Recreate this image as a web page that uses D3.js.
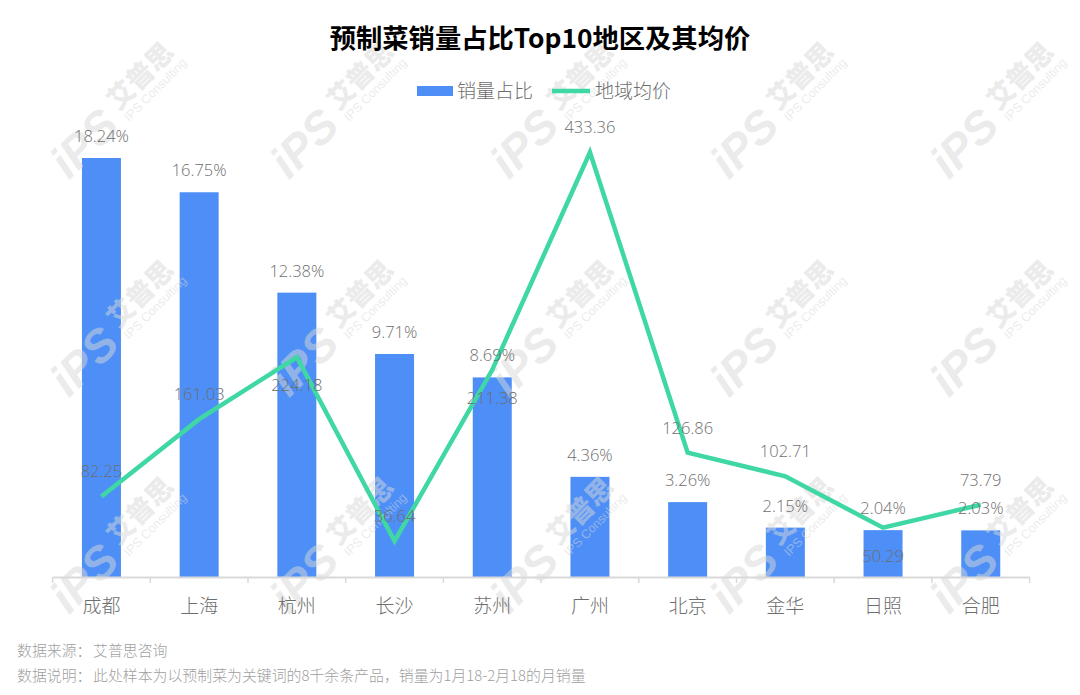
<!DOCTYPE html>
<html><head><meta charset="utf-8">
<script src="https://cdn.jsdelivr.net/npm/d3@7"></script>
<style>html,body{margin:0;padding:0;background:#fff}svg{display:block}
text{font-family:"Noto Sans CJK SC","Noto Sans",sans-serif}</style></head><body>
<svg id="c" width="1080" height="695"></svg>
<script>
const categories=["成都","上海","杭州","长沙","苏州","广州","北京","金华","日照","合肥"];
const shareValues=[18.24,16.75,12.38,9.71,8.69,4.36,3.26,2.15,2.04,2.03];
const priceValues=[82.25,161.03,224.18,36.64,211.38,433.36,126.86,102.71,50.29,73.79];
const priceLabelSide=["up","up","down","up","down","up","up","up","down","up"];
const seriesNames=["销量占比","地域均价"];
const titleText="预制菜销量占比Top10地区及其均价";
const notes=["数据来源：","艾普思咨询","数据说明：","此处样本为以预制菜为关键词的8千余条产品，销量为1月18-2月18的月销量"];
const blue="#4d8ff7",green="#3fd8a4",labelGrey="#6e6e6e";
const svg=d3.select("#c");
const latin='"Open Sans","Noto Sans CJK SC",sans-serif';

const x=d3.scaleBand().domain(categories).range([52.6,1029.6]).paddingInner(0).paddingOuter(0);
const yShare=d3.scaleLinear().domain([0,20]).range([577,117.6]);
const yPrice=d3.scaleLinear().domain([0,500]).range([577,87]);
const cx=d=>x(d)+x.bandwidth()/2;

// bars
svg.append("g").selectAll("rect").data(categories).join("rect")
  .attr("x",d=>cx(d)-19.5).attr("width",39)
  .attr("y",(d,i)=>yShare(shareValues[i]))
  .attr("height",(d,i)=>yShare(0)-yShare(shareValues[i]))
  .attr("fill",blue);

// watermark
const wmCols=[76,296,516,736,956], wmRows=[182,400,617];
const wm=svg.append("g").attr("pointer-events","none");
wmRows.forEach(ry=>wmCols.forEach(rx=>{
  const g=wm.append("g").attr("transform",`translate(${rx},${ry}) rotate(-45)`)
    .attr("fill","#d8d8d8").attr("fill-opacity",0.5);
  g.append("text").attr("x",-4).attr("y",-6).attr("font-size",46).attr("font-weight",900)
    .style("font-family",'"Liberation Sans"').style("font-style","italic").text("iPS");
  g.append("text").attr("x",80).attr("y",-20).attr("font-size",27).attr("font-weight",900).text("艾普思");
  g.append("text").attr("x",80).attr("y",-5).attr("font-size",12.5).attr("font-weight",400)
    .style("font-family",'"Liberation Sans"').text("IPS Consulting");
}));

// axis
const axis=svg.append("g").attr("transform","translate(0,577)")
  .call(d3.axisBottom(x).tickSize(0).tickPadding(23));
axis.select(".domain").attr("stroke","#d9d9d9").attr("stroke-width",2);
axis.selectAll("text").attr("font-size",19).attr("fill",labelGrey)
  .style("font-family",'"Noto Sans CJK SC"').attr("font-weight",300);
svg.append("g").selectAll("line").data(d3.range(11)).join("line")
  .attr("x1",i=>52.6+i*x.bandwidth()).attr("x2",i=>52.6+i*x.bandwidth())
  .attr("y1",577).attr("y2",583).attr("stroke","#d9d9d9").attr("stroke-width",1.5);

// line
const line=d3.line().x(d=>cx(d)).y((d,i)=>yPrice(priceValues[i]));
svg.append("path").attr("d",line(categories)).attr("fill","none")
  .attr("stroke",green).attr("stroke-width",4.5).attr("stroke-linejoin","miter");

// labels
svg.append("g").selectAll("text").data(categories).join("text")
  .attr("x",cx).attr("y",(d,i)=>yShare(shareValues[i])-16)
  .attr("text-anchor","middle").attr("font-size",16.5).attr("fill",labelGrey)
  .style("font-family",latin).attr("font-weight",300)
  .text((d,i)=>shareValues[i].toFixed(2)+"%");
svg.append("g").selectAll("text").data(categories).join("text")
  .attr("x",cx).attr("y",(d,i)=>yPrice(priceValues[i])+(priceLabelSide[i]==="up"?-19:34))
  .attr("text-anchor","middle").attr("font-size",16.5).attr("fill",labelGrey)
  .style("font-family",latin).attr("font-weight",300)
  .text((d,i)=>priceValues[i].toFixed(2));

// title
svg.append("text").attr("x",540).attr("y",48).attr("text-anchor","middle")
  .attr("font-size",26.3).attr("font-weight",700).attr("fill","#000").text(titleText);

// legend
svg.append("rect").attr("x",417).attr("y",86).attr("width",36).attr("height",10).attr("fill",blue);
svg.append("text").attr("x",457).attr("y",98).attr("font-size",19).attr("font-weight",300).attr("fill",labelGrey).text(seriesNames[0]);
svg.append("line").attr("x1",552).attr("x2",590).attr("y1",91).attr("y2",91).attr("stroke",green).attr("stroke-width",4.5);
svg.append("text").attr("x",595).attr("y",98).attr("font-size",19).attr("font-weight",300).attr("fill",labelGrey).text(seriesNames[1]);

// notes
const noteFill="#a0a0a0";
[[17,656,0],[93,656,1],[17,681,2],[93,681,3]].forEach(([px,py,i])=>
  svg.append("text").attr("x",px).attr("y",py).attr("font-size",14.9).attr("font-weight",300)
    .attr("fill",noteFill).text(notes[i]));
</script></body></html>
